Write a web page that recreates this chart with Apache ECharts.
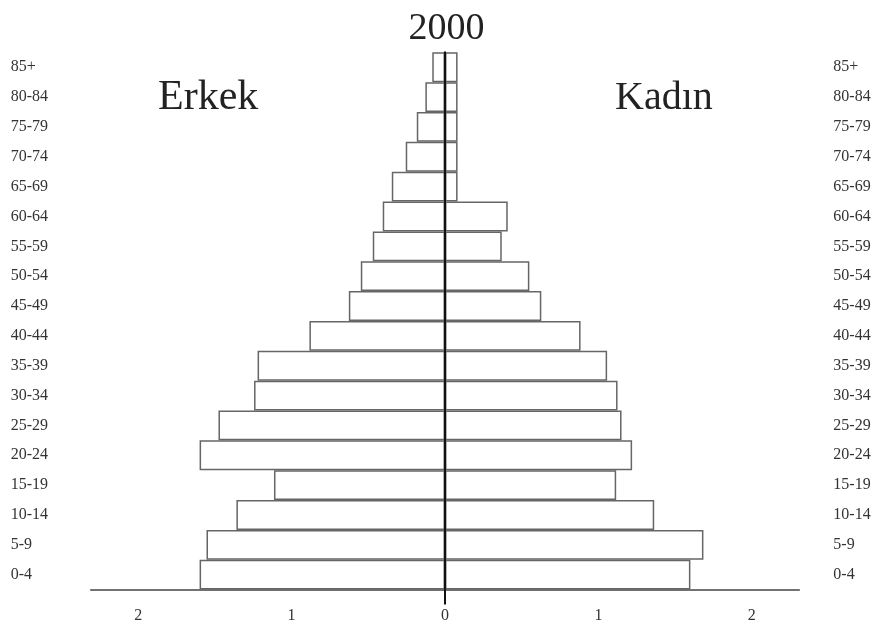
<!DOCTYPE html>
<html>
<head>
<meta charset="utf-8">
<script src="https://cdn.jsdelivr.net/npm/echarts@6/dist/echarts.min.js"></script>
<style>
html,body{margin:0;padding:0;background:#fff;}
#chart{width:893px;height:628px;}
</style>
</head>
<body>
<div id="chart"></div>
<script>
// Age groups, bottom to top
var ageGroups = ['0-4','5-9','10-14','15-19','20-24','25-29','30-34','35-39','40-44','45-49','50-54','55-59','60-64','65-69','70-74','75-79','80-84','85+'];
// Erkek (male) values, drawn to the left
var erkek = [1.60, 1.555, 1.36, 1.115, 1.60, 1.477, 1.245, 1.222, 0.884, 0.627, 0.549, 0.471, 0.406, 0.347, 0.256, 0.184, 0.128, 0.083];
// Kadın (female) values, drawn to the right
var kadin = [1.60, 1.685, 1.364, 1.116, 1.22, 1.151, 1.125, 1.057, 0.884, 0.628, 0.55, 0.37, 0.409, 0.082, 0.082, 0.082, 0.082, 0.082];
// Tick labels on the value axis
var xTicks = [-2, -1, 0, 1, 2];
var titleText = '2000';
var leftLabel = 'Erkek';
var rightLabel = 'Kadın';

var serif = 'Liberation Serif';
var chart = echarts.init(document.getElementById('chart'), null, {renderer: 'canvas'});
var barStyle = {color: '#ffffff', borderColor: '#666666', borderWidth: 1.5};

chart.setOption({
  animation: false,
  backgroundColor: '#ffffff',
  title: [
    {text: titleText, left: 'center', top: 5, textStyle: {fontFamily: serif, fontWeight: 'normal', fontSize: 38, color: '#222'}},
    {text: leftLabel, left: 153, top: 72, textStyle: {fontFamily: serif, fontWeight: 'normal', fontSize: 42, color: '#222'}},
    {text: rightLabel, left: 610, top: 73, textStyle: {fontFamily: serif, fontWeight: 'normal', fontSize: 40, color: '#222'}}
  ],
  grid: {left: 90.7, right: 93.7, top: 52.3, bottom: 38.4, containLabel: false},
  xAxis: {
    type: 'value', min: -2.31, max: 2.31,
    splitLine: {show: false},
    axisLine: {show: true, lineStyle: {color: '#444', width: 1.5}},
    axisTick: {show: true, customValues: [0], length: 15, inside: false, lineStyle: {color: '#111', width: 2}},
    axisLabel: {customValues: xTicks, formatter: function (v) { return String(Math.abs(v)); }, fontFamily: serif, fontSize: 16, color: '#333', margin: 18}
  },
  yAxis: [
    {
      type: 'category', data: ageGroups, position: 'left', z: 5,
      axisLine: {show: true, onZero: true, lineStyle: {color: '#111', width: 2}},
      axisTick: {show: false}, axisLabel: {show: false}, splitLine: {show: false}
    },
    {
      type: 'category', data: ageGroups, position: 'left',
      axisLine: {show: false, onZero: false}, axisTick: {show: false}, splitLine: {show: false},
      axisLabel: {show: true, align: 'left', margin: 80, fontFamily: serif, fontSize: 16, color: '#333'}
    },
    {
      type: 'category', data: ageGroups, position: 'right',
      axisLine: {show: false, onZero: false}, axisTick: {show: false}, splitLine: {show: false},
      axisLabel: {show: true, align: 'left', margin: 34, fontFamily: serif, fontSize: 16, color: '#333'}
    }
  ],
  series: [
    {name: leftLabel, type: 'bar', yAxisIndex: 0, data: erkek.map(function (v) { return -v; }), barCategoryGap: 0, barGap: '-100%', itemStyle: barStyle, silent: true},
    {name: rightLabel, type: 'bar', yAxisIndex: 0, data: kadin, barCategoryGap: 0, barGap: '-100%', itemStyle: barStyle, silent: true}
  ]
});
</script>
</body>
</html>
